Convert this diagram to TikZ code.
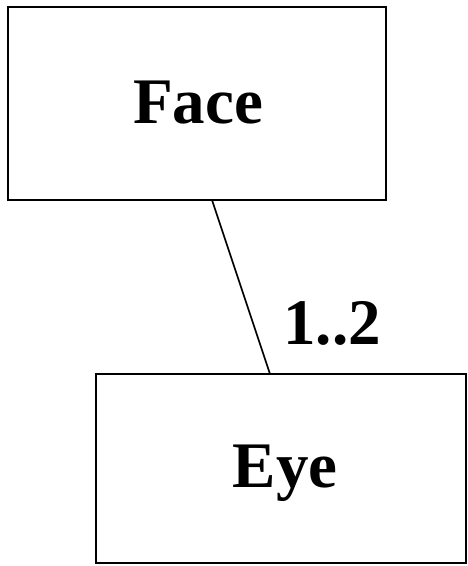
\documentclass[tikz,border=0pt]{standalone}
\usepackage{fontspec}
\setmainfont{Liberation Serif}
\begin{document}
\begin{tikzpicture}[x=1pt,y=-1pt,
  box/.style={draw,line width=1.6pt,inner sep=0pt},
  lbl/.style={font=\fontsize{65}{67}\selectfont\bfseries}]
\useasboundingbox (0,0) rectangle (468,566);
\draw[line width=1.6pt] (8,7) rectangle (386,200);
\node[lbl] (face) at (198,103) {Face};
\draw[line width=1.6pt] (96,374) rectangle (466,563);
\node[lbl] (eye) at (285,473) {Eye};
\coordinate (a) at (212,200);
\coordinate (b) at (270,374);
\draw[line width=1.6pt] (a) -- (b);
\node[lbl] (m) at (332,323) {1..2};
\end{tikzpicture}
\end{document}
